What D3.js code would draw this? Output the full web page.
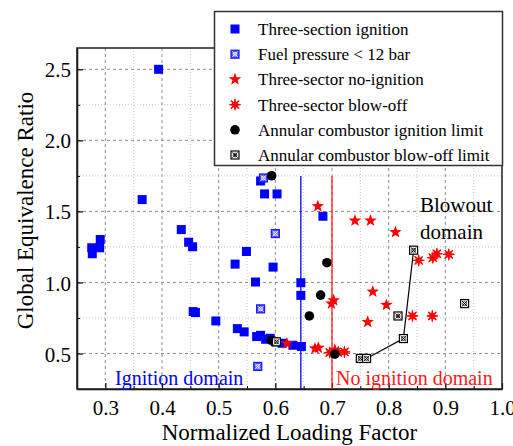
<!DOCTYPE html>
<html>
<head>
<meta charset="utf-8">
<script src="https://cdn.jsdelivr.net/npm/d3@7"></script>
<style>
  body { margin: 0; background: #fff; }
  svg text { font-family: "Liberation Serif", "Times New Roman", serif; }
</style>
</head>
<body>
<div id="chart"></div>
<script>
// data: [loading factor, equivalence ratio]
var ignition = [[0.394,2.50],[0.365,1.583],[0.434,1.372],[0.447,1.283],[0.454,1.251],
  [0.276,1.244],[0.277,1.202],[0.291,1.302],[0.290,1.244],[0.549,1.218],[0.529,1.129],
  [0.565,1.003],[0.455,0.795],[0.459,0.788],[0.495,0.729],[0.533,0.675],[0.545,0.652],
  [0.567,0.619],[0.574,0.628],[0.583,0.600],[0.591,0.607],[0.600,0.582],[0.612,0.572],
  [0.631,0.558],[0.646,0.549],[0.574,1.714],[0.581,1.623],[0.603,1.623],[0.684,1.466],
  [0.596,1.108],[0.645,0.998],[0.645,0.909]];
var fuelPressure = [[0.579,1.735],[0.600,1.344],[0.574,0.814],[0.569,0.409]];
var noIgnition = [[0.675,1.536],[0.7405,1.435],[0.768,1.435],[0.812,1.353],[0.703,0.874],
  [0.699,0.851],[0.772,0.935],[0.796,0.841],[0.763,0.722],[0.6205,0.570],[0.670,0.535],
  [0.676,0.540],[0.705,0.525],[0.711,0.511]];
var blowOff = [[0.853,1.155],[0.878,1.174],[0.885,1.202],[0.906,1.197],[0.842,0.764],
  [0.877,0.764],[0.696,0.507],[0.722,0.511]];
var annularIgn = [[0.5935,1.751],[0.691,1.139],[0.680,0.911],[0.660,0.764],[0.593,0.593],[0.705,0.495]];
var annularBlow = [[0.602,0.582],[0.750,0.465],[0.761,0.465],[0.826,0.605],[0.844,1.227],[0.8165,0.764],[0.934,0.851]];
var blowLine = [[0.750,0.465],[0.761,0.465],[0.826,0.605],[0.844,1.227]];
var xTicks = [0.3,0.4,0.5,0.6,0.7,0.8,0.9,1.0];
var yTicks = [0.5,1.0,1.5,2.0,2.5];
var legendLabels = ["Three-section ignition","Fuel pressure < 12 bar","Three-sector no-ignition",
  "Three-sector blow-off","Annular combustor ignition limit","Annular combustor blow-off limit"];
var ignitionLimit = 0.645, noIgnitionLimit = 0.7;

var margin = {top: 48, right: 11, bottom: 57, left: 77};
var width = 513, height = 446;
var w = width - margin.left - margin.right, h = height - margin.top - margin.bottom;

var svg = d3.select("#chart").append("svg")
  .attr("width", width).attr("height", height)
  .attr("font-family", "Liberation Serif, Times New Roman, serif");
var g = svg.append("g").attr("transform", "translate(" + margin.left + "," + margin.top + ")");

var x = d3.scaleLinear().domain([0.25, 1.0]).range([0, w]);
var y = d3.scaleLinear().domain([0.25, 2.65]).range([h, 0]);

// grid
var xMinor = d3.range(0.35, 1.0, 0.1), yMinor = d3.range(0.75, 2.6, 0.5);
g.selectAll(".gxm").data(xMinor).enter().append("line")
  .attr("x1", d => x(d)).attr("x2", d => x(d)).attr("y1", 0).attr("y2", h)
  .attr("stroke", "#c8c8c8").attr("stroke-dasharray", "1,2");
g.selectAll(".gym").data(yMinor).enter().append("line")
  .attr("x1", 0).attr("x2", w).attr("y1", d => y(d)).attr("y2", d => y(d))
  .attr("stroke", "#c8c8c8").attr("stroke-dasharray", "1,2");
g.selectAll(".gx").data(xTicks.slice(0, -1)).enter().append("line")
  .attr("x1", d => x(d)).attr("x2", d => x(d)).attr("y1", 0).attr("y2", h)
  .attr("stroke", "#8c8c8c").attr("stroke-dasharray", "3,3");
g.selectAll(".gy").data(yTicks).enter().append("line")
  .attr("x1", 0).attr("x2", w).attr("y1", d => y(d)).attr("y2", d => y(d))
  .attr("stroke", "#8c8c8c").attr("stroke-dasharray", "3,3");

// axes, ticks inward
var xAxis = g.append("g").attr("transform", "translate(0," + h + ")")
  .call(d3.axisBottom(x).tickValues(xTicks).tickFormat(d3.format(".1f")).tickSize(-6).tickSizeOuter(0));
var yAxis = g.append("g")
  .call(d3.axisLeft(y).tickValues(yTicks).tickFormat(d3.format(".1f")).tickSize(-6).tickSizeOuter(0));
g.append("g").attr("transform", "translate(0," + h + ")")
  .call(d3.axisBottom(x).tickValues(xMinor).tickFormat("").tickSize(-3).tickSizeOuter(0))
  .select(".domain").remove();
g.append("g")
  .call(d3.axisLeft(y).tickValues(yMinor).tickFormat("").tickSize(-3).tickSizeOuter(0))
  .select(".domain").remove();
[xAxis, yAxis].forEach(function(a) {
  a.attr("font-family", null);
  a.select(".domain").attr("stroke-width", 1.5);
  a.selectAll(".tick line").attr("stroke-width", 1.2);
  a.selectAll("text").style("font-size", "21px").attr("fill", "#000");
});
xAxis.selectAll("text").attr("dy", 0).attr("y", 26);
yAxis.selectAll("text").attr("x", -6).attr("dy", "0.36em");
g.append("rect").attr("width", w).attr("height", h)
  .attr("fill", "none").attr("stroke", "#222").attr("stroke-width", 1.5);

// domain boundaries
g.append("line").attr("x1", x(ignitionLimit)).attr("x2", x(ignitionLimit))
  .attr("y1", y(1.75)).attr("y2", h).attr("stroke", "#0000ff").attr("stroke-width", 1.3);
g.append("line").attr("x1", x(noIgnitionLimit)).attr("x2", x(noIgnitionLimit))
  .attr("y1", y(1.75)).attr("y2", h).attr("stroke", "#ff1a1a").attr("stroke-width", 1.3);

// marker shapes
function starPath(n, ro, ri) {
  var pts = [];
  for (var i = 0; i < 2 * n; i++) {
    var a = Math.PI * i / n - Math.PI / 2, r = i % 2 ? ri : ro;
    pts.push([r * Math.cos(a), r * Math.sin(a)]);
  }
  return "M" + pts.join("L") + "Z";
}
function drawMarker(sel, type) {
  if (type === 0) {
    sel.append("rect").attr("x", -4.5).attr("y", -4.5).attr("width", 9).attr("height", 9).attr("fill", "#0000ff");
  } else if (type === 1 || type === 5) {
    var c = type === 1 ? "#1a1aff" : "#000";
    sel.append("rect").attr("x", -4).attr("y", -4).attr("width", 8).attr("height", 8)
      .attr("fill", type === 1 ? "#4d4dff" : "#fff").attr("stroke", c).attr("stroke-width", 1.2);
    var lc = type === 1 ? "#fff" : "#000";
    sel.append("path").attr("d", "M-2.7,-2.7L2.7,2.7M-2.7,2.7L2.7,-2.7").attr("stroke", lc).attr("stroke-width", 0.9);
    sel.append("circle").attr("r", 1.9).attr("fill", "none").attr("stroke", lc).attr("stroke-width", 0.8);
  } else if (type === 2) {
    sel.append("path").attr("d", starPath(5, 6.6, 2.7)).attr("fill", "#ff0000");
  } else if (type === 3) {
    sel.append("path").attr("d", starPath(8, 6.5, 2.9)).attr("fill", "#ff1a1a");
    sel.append("path").attr("d", "M-4,-4L4,4M-4,4L4,-4M0,-5.5V5.5M-5.5,0H5.5")
      .attr("stroke", "#ff0000").attr("stroke-width", 1.2);
  } else {
    sel.append("circle").attr("r", 4.8).attr("fill", "#000");
  }
}

var line = d3.line().x(d => x(d[0])).y(d => y(d[1]));
g.append("path").datum(blowLine).attr("d", line).attr("fill", "none").attr("stroke", "#000").attr("stroke-width", 1.2);

var series = [ignition, fuelPressure, noIgnition, blowOff, annularIgn, annularBlow];
series.forEach(function(s, i) {
  g.selectAll(".m" + i).data(s).enter().append("g")
    .attr("transform", d => "translate(" + x(d[0]) + "," + y(d[1]) + ")")
    .each(function() { drawMarker(d3.select(this), i); });
});

// annotations
g.append("text").attr("x", 38).attr("y", 337).attr("fill", "#0000ff").style("font-size", "20px").text("Ignition domain");
g.append("text").attr("x", 259).attr("y", 337).attr("fill", "#ff1a1a").style("font-size", "20px").text("No ignition domain");
g.append("text").attr("x", 343).attr("y", 164).attr("fill", "#000").style("font-size", "21px").text("Blowout");
g.append("text").attr("x", 343).attr("y", 191).attr("fill", "#000").style("font-size", "21px").text("domain");

// axis titles
svg.append("text").attr("x", margin.left + w / 2).attr("y", 440).attr("text-anchor", "middle")
  .style("font-size", "23px").attr("fill", "#000").text("Normalized Loading Factor");
svg.append("text").attr("transform", "translate(33," + (margin.top + h / 2 - 8) + ") rotate(-90)")
  .attr("text-anchor", "middle").style("font-size", "23px").attr("fill", "#000").text("Global Equivalence Ratio");

// legend
var lg = svg.append("g").attr("transform", "translate(214.5,11.5)");
lg.append("rect").attr("width", 288).attr("height", 154).attr("fill", "#fff")
  .attr("stroke", "#333").attr("stroke-width", 1.5);
legendLabels.forEach(function(t, i) {
  var row = lg.append("g").attr("transform", "translate(0," + (17.5 + i * 25.2) + ")");
  drawMarker(row.append("g").attr("transform", "translate(20.5,0)"), i);
  row.append("text").attr("x", 43.5).attr("y", 6).style("font-size", "17px").attr("fill", "#000").text(t);
});
</script>
</body>
</html>
